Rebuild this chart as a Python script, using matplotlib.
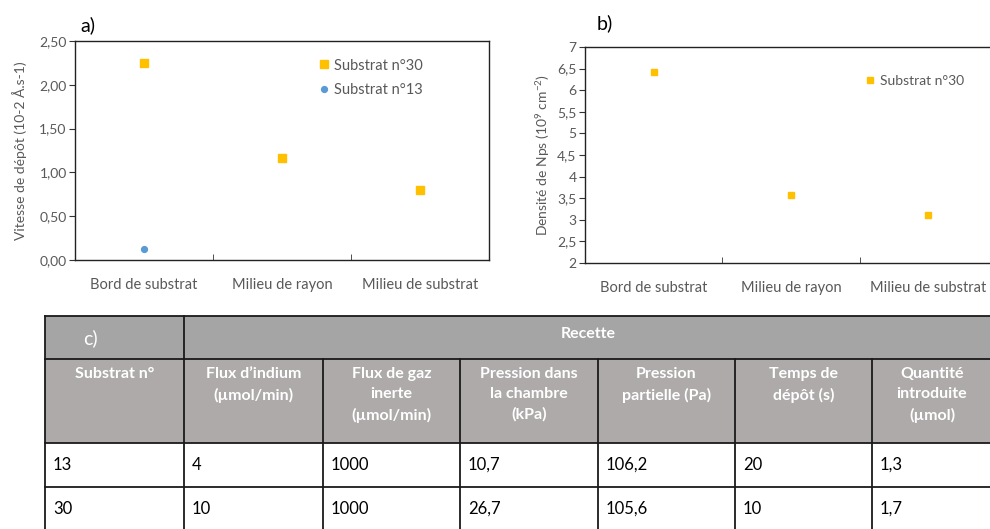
import matplotlib
matplotlib.use("Agg")
import matplotlib.pyplot as plt
from matplotlib.patches import Rectangle

plt.rcParams["font.family"] = ["Lato", "DejaVu Sans"]
plt.rcParams["mathtext.fontset"] = "custom"
plt.rcParams["mathtext.rm"] = "Lato"
plt.rcParams["mathtext.it"] = "Lato:italic"

# ── Data ───────────────────────────────────────────────────────────────
positions = ["Bord de substrat", "Milieu de rayon", "Milieu de substrat"]
vitesse_30 = [2.25, 1.17, 0.80]
vitesse_13 = [0.12]            # only measured at the substrate edge
densite_30 = [6.42, 3.57, 3.12]
a_yticks = [0, 0.5, 1.0, 1.5, 2.0, 2.5]
b_yticks = [2, 2.5, 3, 3.5, 4, 4.5, 5, 5.5, 6, 6.5, 7]

table_header = ["Substrat n°", "Flux d’indium\n(µmol/min)", "Flux de gaz\ninerte\n(µmol/min)",
                "Pression dans\nla chambre\n(kPa)", "Pression\npartielle (Pa)",
                "Temps de\ndépôt (s)", "Quantité\nintroduite\n(µmol)"]
table_rows = [["13", "4", "1000", "10,7", "106,2", "20", "1,3"],
              ["30", "10", "1000", "26,7", "105,6", "10", "1,7"]]

ORANGE = "#FFC000"
BLUE = "#5B9BD5"
GREY = "#595959"
W, H = 990, 529


def fmt_comma(v, nd):
    return f"{v:.{nd}f}".replace(".", ",")


def style_axes(ax, yticks, nd):
    ax.set_xlim(-0.5, 2.5)
    ax.set_xticks(range(3))
    ax.set_xticklabels(positions, color=GREY, fontsize=10.5)
    ax.set_xticks([0.5, 1.5], minor=True)
    ax.tick_params(axis="x", which="major", length=0, pad=13)
    ax.tick_params(axis="x", which="minor", direction="in", length=4, color="#333333")
    ax.set_yticks(yticks)
    ax.set_yticklabels([fmt_comma(v, nd) if nd else f"{v:g}".replace(".", ",") for v in yticks],
                       color=GREY, fontsize=10)
    ax.tick_params(axis="y", length=4, color="#333333", pad=2)
    for s in ax.spines.values():
        s.set_color("#222222")
        s.set_linewidth(1.0)


fig = plt.figure(figsize=(W / 100, H / 100), dpi=100)

# ── Panel a ────────────────────────────────────────────────────────────
axa = fig.add_axes([75 / W, 1 - 260 / H, 414 / W, 219 / H])
axa.plot(range(3), vitesse_30, "s", color=ORANGE, ms=6, label="Substrat n°30")
axa.plot(range(len(vitesse_13)), vitesse_13, "o", color=BLUE, ms=4.2, label="Substrat n°13")
axa.set_ylim(0, 2.5)
style_axes(axa, a_yticks, 2)
axa.set_ylabel("Vitesse de dépôt (10-2 Å.s-1)", color=GREY, fontsize=10, labelpad=9)
axa.legend(loc="upper left", bbox_to_anchor=(0.555, 0.98), frameon=False, fontsize=10.5,
           handlelength=0.8, handletextpad=0.3, labelspacing=0.7, labelcolor=GREY)
fig.text(80 / W, 1 - 25 / H, "a)", fontsize=14, va="center")

# ── Panel b ────────────────────────────────────────────────────────────
axb = fig.add_axes([585 / W, 1 - 263 / H, 412 / W, 216 / H])
axb.plot(range(3), densite_30, "s", color=ORANGE, ms=5, label="Substrat n°30")
axb.set_ylim(2, 7)
style_axes(axb, b_yticks, 0)
axb.set_ylabel("Densité de Nps (10$^{9}$ cm$^{-2}$)", color=GREY, fontsize=10, labelpad=4)
axb.legend(loc="upper left", bbox_to_anchor=(0.648, 0.93), frameon=False, fontsize=10,
           handlelength=0.8, handletextpad=0.3, labelcolor=GREY)
fig.text(597 / W, 1 - 23 / H, "b)", fontsize=14, va="center")

# ── Table c ────────────────────────────────────────────────────────────
tab = fig.add_axes([0, 0, 1, 1])
tab.set_xlim(0, W)
tab.set_ylim(H, 0)
tab.axis("off")

col_x = [45, 184, 323, 460, 598, 735, 872, 992]
row_y = [316, 359, 443, 487, 531]
HEAD1 = "#A5A5A5"
HEAD2 = "#AEAAAA"
LINE = "#1a1a1a"

tab.add_patch(Rectangle((col_x[0], row_y[0]), col_x[-1] - col_x[0], row_y[1] - row_y[0],
                        facecolor=HEAD1, edgecolor="none"))
tab.add_patch(Rectangle((col_x[0], row_y[1]), col_x[-1] - col_x[0], row_y[2] - row_y[1],
                        facecolor=HEAD2, edgecolor="none"))

# horizontal lines
for y in row_y:
    tab.plot([col_x[0], col_x[-1]], [y, y], color=LINE, lw=1.3)
# vertical lines (the first header row is merged after column 1)
for i, x in enumerate(col_x[:-1]):
    y0 = row_y[0] if i < 2 else row_y[1]
    tab.plot([x, x], [y0, row_y[-1]], color=LINE, lw=1.3)

tab.text(90, 338, "c)", color="white", fontsize=14, ha="center", va="center")
tab.text((col_x[1] + col_x[-1]) / 2, 334, "Recette", color="white", fontsize=11.5,
         fontweight="bold", ha="center", va="center")

for i, lab in enumerate(table_header):
    tab.text((col_x[i] + col_x[i + 1]) / 2, 367, lab, color="white", fontsize=11.5,
             fontweight="bold", ha="center", va="top", linespacing=1.55)

for r, row in enumerate(table_rows):
    yc = (row_y[2 + r] + row_y[3 + r]) / 2
    for i, val in enumerate(row):
        tab.text(col_x[i] + 8, yc, val, color="black", fontsize=12, ha="left", va="center")

fig.savefig("out.png", dpi=100)
